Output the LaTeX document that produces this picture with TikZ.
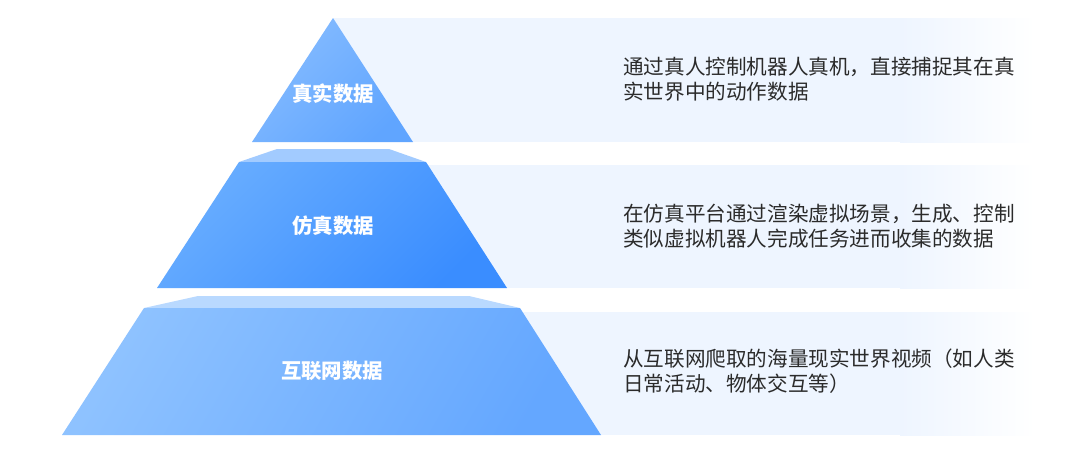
\documentclass[tikz,border=0pt]{standalone}
\usepackage{fontspec}
\newfontfamily\cjk{Noto Sans CJK SC}
\definecolor{pbg}{HTML}{EEF5FF}
\definecolor{txt}{HTML}{2B2B2B}
\definecolor{ta}{HTML}{86BCFF}
\definecolor{tb}{HTML}{60A5FF}
\definecolor{ma}{HTML}{68ADFF}
\definecolor{mb}{HTML}{3A8DFF}
\definecolor{ba}{HTML}{8EC2FF}
\definecolor{bb}{HTML}{64A7FF}
\definecolor{ms}{HTML}{A2CBFF}
\definecolor{bs}{HTML}{B9D9FF}
\begin{document}
\begin{tikzpicture}[x=1pt,y=-1pt,
  lbl/.style={font=\cjk\bfseries\fontsize{20.4}{24}\selectfont, text=white, inner sep=0pt},
  desc/.style={font=\cjk\fontsize{20.6}{25}\selectfont, text=txt, align=left, anchor=west, inner sep=0pt}]
\useasboundingbox[fill=white] (0,0) rectangle (1080,472);
% panels
\foreach \a/\b in {18/142,165/288,312/435} {
  \fill[pbg] (333,\a) rectangle (901,\b);
  \shade[left color=pbg,right color=white] (900,\a) rectangle (1035,\b);
}
% top triangle
\shade[top color=ta, bottom color=tb, shading angle=45] (333,18) -- (413,142) -- (252,142) -- cycle;
% middle
\fill[ms] (277,149) -- (389,149) -- (426,162) -- (239,162) -- cycle;
\shade[top color=ma, bottom color=mb, shading angle=45] (239,162) -- (426,162) -- (507,288) -- (157,288) -- cycle;
% bottom
\fill[bs] (198,296) -- (469,296) -- (520,308) -- (144,308) -- cycle;
\shade[top color=ba, bottom color=bb, shading angle=60] (144,308) -- (520,308) -- (601,435) -- (62,435) -- cycle;
% labels
\node[lbl] (l1) at (333,94) {真实数据};
\node[lbl] (l2) at (333,226) {仿真数据};
\node[lbl] (l3) at (332,371) {互联网数据};
% descriptions
\node[desc] (d1) at (623,79.5) {通过真人控制机器人真机，直接捕捉其在真\\实世界中的动作数据};
\node[desc] (d2) at (623,226) {在仿真平台通过渲染虚拟场景，生成、控制\\类似虚拟机器人完成任务进而收集的数据};
\node[desc] (d3) at (623,371) {从互联网爬取的海量现实世界视频（如人类\\日常活动、物体交互等）};
\end{tikzpicture}
\end{document}
